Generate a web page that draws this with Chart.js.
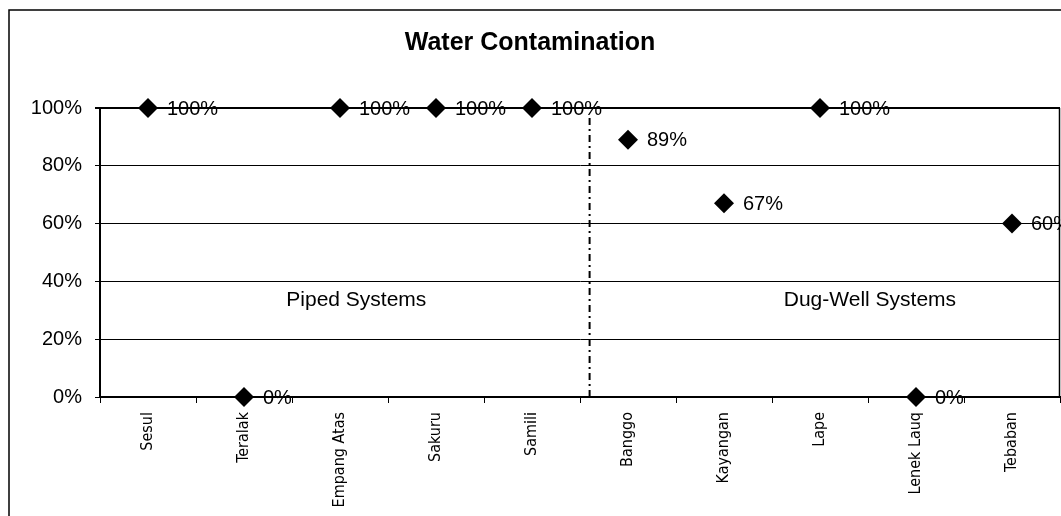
<!DOCTYPE html>
<html>
<head>
<meta charset="utf-8">
<style>
  html, body { margin: 0; padding: 0; background: #ffffff; }
  #wrap { width: 1061px; height: 516px; position: relative; }
</style>
<script src="https://cdn.jsdelivr.net/npm/chart.js@4.4.1/dist/chart.umd.min.js"></script>
</head>
<body>
<div id="wrap"><canvas id="c" width="1061" height="516"></canvas></div>
<script>
const categories = ['Sesul', 'Teralak', 'Empang Atas', 'Sakuru', 'Samili', 'Banggo', 'Kayangan', 'Lape', 'Lenek Lauq', 'Tebaban'];
const contamination = [1.00, 0.00, 1.00, 1.00, 1.00, 0.89, 0.67, 1.00, 0.00, 0.60];
const yTicks = [0, 0.2, 0.4, 0.6, 0.8, 1.0];
const groupLabels = ['Piped Systems', 'Dug-Well Systems'];
const titleText = 'Water Contamination';

const FONT = '"Liberation Sans", Arial, "Helvetica", sans-serif';
const NARROW = '"Liberation Sans Narrow", "DejaVu Sans Condensed", "Liberation Sans", sans-serif';

const decorPlugin = {
  id: 'decor',
  beforeDraw(chart) {
    const ctx = chart.ctx;
    ctx.save();
    ctx.fillStyle = '#ffffff';
    ctx.fillRect(0, 0, chart.width, chart.height);
    ctx.strokeStyle = '#000000';
    ctx.lineWidth = 1.5;
    ctx.beginPath();
    ctx.moveTo(9, chart.height);
    ctx.lineTo(9, 10);
    ctx.lineTo(chart.width, 10);
    ctx.stroke();
    ctx.restore();
  },
  afterDatasetsDraw(chart) {
    const ctx = chart.ctx;
    const xs = chart.scales.x, ys = chart.scales.y;
    const area = chart.chartArea;
    ctx.save();
    // right border of plot area
    ctx.strokeStyle = '#000';
    ctx.lineWidth = 1.5;
    ctx.beginPath();
    ctx.moveTo(area.right - 0.5, area.top);
    ctx.lineTo(area.right - 0.5, area.bottom);
    ctx.stroke();
    // dash-dot divider between the two system types
    const dx = xs.getPixelForValue(4.6);
    ctx.lineWidth = 2;
    ctx.setLineDash([7, 4, 2, 4]);
    ctx.beginPath();
    ctx.moveTo(dx, ys.getPixelForValue(0.965));
    ctx.lineTo(dx, ys.getPixelForValue(0));
    ctx.stroke();
    ctx.setLineDash([]);
    // group labels
    ctx.fillStyle = '#000';
    ctx.font = '21px ' + FONT;
    ctx.textAlign = 'center';
    ctx.textBaseline = 'middle';
    ctx.fillText(groupLabels[0], xs.getPixelForValue(2.17), ys.getPixelForValue(0.335));
    ctx.fillText(groupLabels[1], xs.getPixelForValue(7.52), ys.getPixelForValue(0.335));
    // data labels
    ctx.font = '20px ' + FONT;
    ctx.textAlign = 'left';
    const meta = chart.getDatasetMeta(0);
    meta.data.forEach((pt, i) => {
      const v = contamination[i];
      ctx.fillText(Math.round(v * 100) + '%', pt.x + 19, pt.y + 1);
    });
    ctx.restore();
  }
};

new Chart(document.getElementById('c'), {
  type: 'line',
  data: {
    labels: categories,
    datasets: [{
      data: contamination,
      showLine: false,
      clip: false,
      pointStyle: 'rectRot',
      pointRadius: 10,
      pointHoverRadius: 10,
      pointBackgroundColor: '#000',
      pointBorderColor: '#000',
      pointBorderWidth: 0
    }]
  },
  options: {
    responsive: false,
    animation: false,
    devicePixelRatio: 1,
    layout: { autoPadding: false, padding: { left: 0, right: 1, top: 0, bottom: 0 } },
    plugins: {
      legend: { display: false },
      tooltip: { enabled: false },
      title: {
        display: true,
        text: titleText,
        color: '#000',
        font: { family: FONT, size: 25, weight: 'bold', lineHeight: 1.2 },
        padding: { top: 28, bottom: 50 }
      }
    },
    scales: {
      x: {
        type: 'category',
        offset: true,
        grid: {
          offset: true,
          drawOnChartArea: false,
          drawTicks: true,
          tickLength: 6,
          color: '#000',
          lineWidth: 1
        },
        border: { display: true, color: '#000', width: 2 },
        ticks: {
          color: '#000',
          font: { family: NARROW, size: 16 },
          minRotation: 90,
          maxRotation: 90,
          padding: 9,
          autoSkip: false
        },
        afterFit(scale) { scale.height = 119; scale.paddingLeft = 0; scale.paddingRight = 0; }
      },
      y: {
        min: 0,
        max: 1,
        afterBuildTicks(scale) { scale.ticks = yTicks.map(v => ({ value: v })); },
        grid: {
          color: '#000',
          lineWidth: (c) => (c.tick && c.tick.value === 1 ? 2 : 1),
          tickLength: 5
        },
        border: { display: true, color: '#000', width: 2 },
        ticks: {
          color: '#000',
          font: { family: FONT, size: 20 },
          padding: 13,
          callback: (v) => Math.round(v * 100) + '%'
        },
        afterFit(scale) { scale.width = 100; scale.paddingTop = 0; scale.paddingBottom = 0; }
      }
    }
  },
  plugins: [decorPlugin]
});
</script>
</body>
</html>
